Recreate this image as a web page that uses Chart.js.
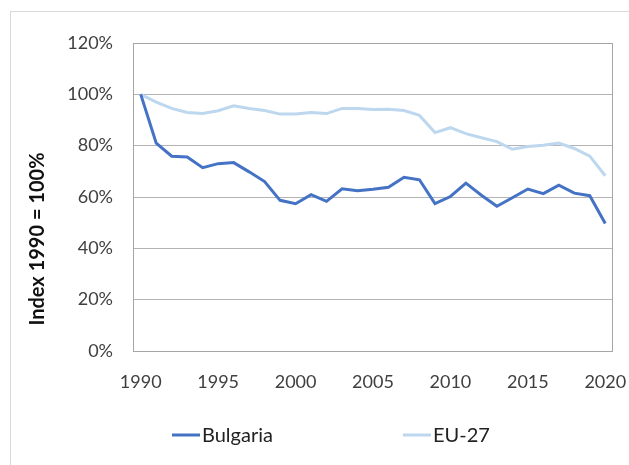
<!DOCTYPE html>
<html>
<head>
<meta charset="utf-8">
<script src="https://cdn.jsdelivr.net/npm/chart.js@4"></script>
<style>
  html, body { margin: 0; padding: 0; background: #fff; }
  #wrap { width: 629px; height: 465px; }
</style>
</head>
<body>
<div id="wrap"><canvas id="chart" width="629" height="465"></canvas></div>
<script>
var years = [];
for (var y = 1990; y <= 2020; y++) years.push(String(y));

var bulgaria = [100, 81.0, 75.9, 75.6, 71.4, 73.0, 73.4, 69.8, 66.0, 58.7,
  57.4, 60.9, 58.3, 63.2, 62.4, 63.0, 63.8, 67.7, 66.7, 57.4,
  60.2, 65.4, 60.7, 56.4, 59.7, 63.1, 61.3, 64.6, 61.5, 60.5, 49.7];
var eu27 = [100, 97.0, 94.5, 92.9, 92.5, 93.6, 95.5, 94.5, 93.7, 92.3,
  92.3, 92.9, 92.5, 94.5, 94.5, 94.1, 94.2, 93.7, 91.8, 85.1,
  87.0, 84.7, 83.1, 81.6, 78.6, 79.7, 80.2, 81.0, 78.9, 75.9, 68.3];
var yTicks = [0, 20, 40, 60, 80, 100, 120];

var FONT = 'Lato, "Open Sans", sans-serif';
var TEXT = '#404040';
var GRID = '#b4b4b4';

// frame around the whole chart + plot border + rotated axis title + legend
var decor = {
  id: 'decor',
  beforeDraw: function(chart) {
    var c = chart.ctx;
    c.save();
    c.strokeStyle = '#d9d9d9';
    c.lineWidth = 1;
    c.strokeRect(10.5, 11.5, 640, 480);
    c.restore();
  },
  beforeDatasetsDraw: function(chart) {
    var a = chart.chartArea, c = chart.ctx;
    c.save();
    c.strokeStyle = '#a6a6a6';
    c.lineWidth = 1;
    c.strokeRect(Math.round(a.left) + 0.5, Math.round(a.top) + 0.5,
      Math.round(a.right - a.left) - 1, Math.round(a.bottom - a.top));
    c.restore();
  },
  afterDraw: function(chart) {
    var c = chart.ctx;
    c.save();
    c.translate(38, 239);
    c.rotate(-Math.PI / 2);
    c.font = 'bold 20px ' + FONT;
    c.fillStyle = '#111';
    c.textAlign = 'center';
    c.textBaseline = 'middle';
    c.fillText('Index 1990 = 100%', 0, 0);
    c.restore();

    var spots = [172, 403];
    chart.data.datasets.forEach(function(ds, i) {
      var x = spots[i], yy = 435;
      c.save();
      c.strokeStyle = ds.borderColor;
      c.lineWidth = 3;
      c.beginPath();
      c.moveTo(x, yy);
      c.lineTo(x + 28, yy);
      c.stroke();
      c.font = '20px ' + FONT;
      c.fillStyle = '#222';
      c.textBaseline = 'middle';
      c.fillText(ds.label, x + 30, yy + 1);
      c.restore();
    });
  }
};

new Chart(document.getElementById('chart').getContext('2d'), {
  type: 'line',
  data: {
    labels: years,
    datasets: [{
      label: 'Bulgaria',
      data: bulgaria,
      borderColor: '#4472c4',
      backgroundColor: '#4472c4',
      borderWidth: 3,
      pointRadius: 0,
      tension: 0
    }, {
      label: 'EU-27',
      data: eu27,
      borderColor: '#bdd7ee',
      backgroundColor: '#bdd7ee',
      borderWidth: 3,
      pointRadius: 0,
      tension: 0
    }]
  },
  options: {
    responsive: false,
    animation: false,
    layout: { padding: { left: 0, top: 43, right: 16, bottom: 0 } },
    plugins: {
      legend: { display: false },
      tooltip: { enabled: false }
    },
    scales: {
      x: {
        type: 'category',
        offset: true,
        grid: { display: false, drawTicks: false },
        border: { display: false },
        afterFit: function(s) {
          s.height = 114;
          s.paddingLeft = 0;
          s.paddingRight = 0;
        },
        ticks: {
          autoSkip: false,
          maxRotation: 0,
          padding: 20,
          color: TEXT,
          font: { family: FONT, size: 18 },
          callback: function(v, i) {
            var lab = years[i];
            return Number(lab) % 5 === 0 ? lab : '';
          }
        }
      },
      y: {
        min: 0,
        max: 120,
        afterFit: function(s) { s.width = 133; },
        afterBuildTicks: function(s) {
          s.ticks = yTicks.map(function(v) { return { value: v }; });
        },
        grid: { color: GRID, drawTicks: false },
        border: { display: false },
        ticks: {
          padding: 20,
          color: TEXT,
          font: { family: FONT, size: 18 },
          callback: function(v) { return v + '%'; }
        }
      }
    }
  },
  plugins: [decor]
});
</script>
</body>
</html>
